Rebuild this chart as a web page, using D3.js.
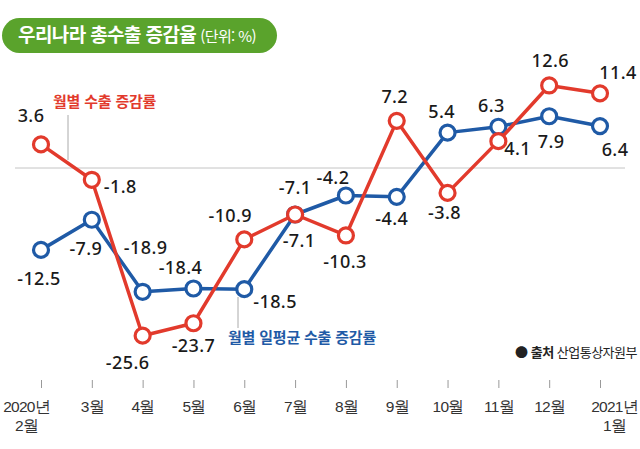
<!DOCTYPE html>
<html lang="ko">
  <head>
    <meta charset="UTF-8" />
    <title>우리나라 총수출 증감율</title>
    <script src="https://cdn.jsdelivr.net/npm/d3@7"></script>
    <style>
      body { margin: 0; background: #fff; }
      svg { display: block; font-family: "Noto Sans CJK KR", "Noto Sans", sans-serif; }
    </style>
  </head>
  <body>
    <svg width="640" height="449"></svg>

    <script>
      // data
      const months = ["2020년|2월", "3월", "4월", "5월", "6월", "7월", "8월", "9월", "10월", "11월", "12월", "2021년|1월"];
      const exportGrowth = [3.6, -1.8, -25.6, -23.7, -10.9, -7.1, -10.3, 7.2, -3.8, 4.1, 12.6, 11.4];
      const dailyAvgGrowth = [-12.5, -7.9, -18.9, -18.4, -18.5, -7.1, -4.2, -4.4, 5.4, 6.3, 7.9, 6.4];

      // label offsets from each point (layout only)
      const redLabelOff = [[-10, -29], [12, 7, "start"], [-15, 27], [0, 22], [-14, -24], [0, -27],
                           [-1, 26], [-2, -24], [-3, 20], [6, 7, "start"], [1, -25], [18, -21]];
      const blueLabelOff = [[-2, 29], [-6, 29], [3, -44], [-13, -21], [9, 12, "start"], [4, 26],
                            [-13, -18], [-5, 22], [-6, -21], [-7, -21], [2, 25], [15, 23]];

      const red = "#e23a2c", blue = "#1f5aa6";
      const svg = d3.select("svg");

      const x = d3.scalePoint().domain(months).range([41, 600]);
      const y = d3.scaleLinear().domain([-30, 15]).range([364.5, 69.75]);

      // title pill
      const title = svg.append("g");
      title.append("rect")
        .attr("x", 2).attr("y", 18).attr("width", 275).attr("height", 35)
        .attr("rx", 17.5).attr("fill", "#5aa32c");
      const tt = title.append("text").attr("x", 18).attr("y", 42).attr("fill", "#fff");
      tt.append("tspan").attr("font-size", 19).attr("font-weight", 700)
        .attr("letter-spacing", -0.6).text("우리나라 총수출 증감율");
      tt.append("tspan").attr("dx", 4).attr("font-size", 15).attr("letter-spacing", -0.6).text("(단위: %)");

      // zero line
      svg.append("line")
        .attr("x1", 15).attr("x2", 625)
        .attr("y1", y(0)).attr("y2", y(0))
        .attr("stroke", "#c4c4c4").attr("stroke-width", 1);

      // x axis
      const ax = svg.append("g")
        .attr("transform", "translate(0,380)")
        .call(d3.axisBottom(x).tickSize(8).tickFormat(""));
      ax.select(".domain").remove();
      ax.selectAll(".tick line").attr("stroke", "#999");
      ax.selectAll(".tick").each(function (d, i) {
        const parts = d.split("|");
        const t = d3.select(this).append("text")
          .attr("fill", "#333").attr("font-size", 15.5).attr("letter-spacing", -0.8)
          .attr("text-anchor", "middle");
        const shift = i === 0 ? -15 : i === months.length - 1 ? 14 : 0;
        parts.forEach((p, j) => {
          t.append("tspan").attr("x", shift).attr("y", 32 + j * 19).text(p);
        });
      });

      // leader lines and series names
      svg.append("line").attr("x1", 68).attr("x2", 68).attr("y1", 115).attr("y2", 160)
        .attr("stroke", "#aaa").attr("stroke-width", 1);
      svg.append("text").attr("x", 53).attr("y", 107)
        .attr("fill", red).attr("font-size", 15).attr("font-weight", 700).attr("letter-spacing", -0.2)
        .text("월별 수출 증감률");
      svg.append("line").attr("x1", 238).attr("x2", 238).attr("y1", 297).attr("y2", 328)
        .attr("stroke", "#aaa").attr("stroke-width", 1);
      svg.append("text").attr("x", 228).attr("y", 343)
        .attr("fill", blue).attr("font-size", 15).attr("font-weight", 700).attr("letter-spacing", -0.2)
        .text("월별 일평균 수출 증감률");

      // source
      const src = svg.append("text").attr("x", 637).attr("y", 357).attr("text-anchor", "end")
        .attr("fill", "#222").attr("font-size", 13).attr("letter-spacing", -0.5);
      src.append("tspan").text("● ");
      src.append("tspan").attr("font-weight", 700).text("출처");
      src.append("tspan").text(" 산업통상자원부");

      const line = d3.line().x((d, i) => x(months[i])).y(d => y(d));

      function drawSeries(values, color) {
        const g = svg.append("g");
        g.append("path").datum(values)
          .attr("d", line)
          .attr("fill", "none").attr("stroke", color)
          .attr("stroke-width", 3.5).attr("stroke-linejoin", "round");
        g.selectAll("circle").data(values).join("circle")
          .attr("cx", (d, i) => x(months[i])).attr("cy", d => y(d))
          .attr("r", 7.5).attr("fill", "#fff")
          .attr("stroke", color).attr("stroke-width", 3.2);
      }

      function drawLabels(values, offs) {
        svg.append("g").selectAll("text").data(values).join("text")
          .attr("x", (d, i) => x(months[i]) + offs[i][0])
          .attr("y", (d, i) => y(d) + offs[i][1])
          .attr("dy", "0.36em")
          .attr("text-anchor", (d, i) => offs[i][2] || "middle")
          .attr("font-family", "'Noto Sans', sans-serif")
          .attr("font-size", 18).attr("font-weight", 500).attr("fill", "#1a1a1a")
          .attr("letter-spacing", 0.4)
          .text(d => d3.format(".1f")(d).replace("−", "-"));
      }

      drawSeries(dailyAvgGrowth, blue);
      drawSeries(exportGrowth, red);
      drawLabels(dailyAvgGrowth, blueLabelOff);
      drawLabels(exportGrowth, redLabelOff);
    </script>
  </body>
</html>
